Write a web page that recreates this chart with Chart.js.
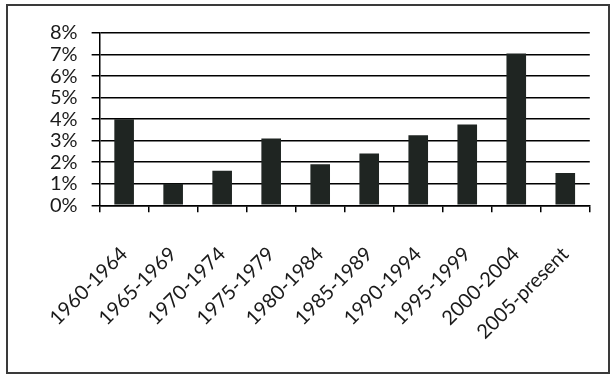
<!DOCTYPE html>
<html>
<head>
<meta charset="utf-8">
<script src="https://cdn.jsdelivr.net/npm/chart.js@4"></script>
<style>
  html, body { margin: 0; padding: 0; background: #fff; }
  #wrap { position: relative; width: 613px; height: 375px; }
  #frame { position: absolute; left: 6px; top: 4px; width: 600px; height: 366px; border: 2px solid #3a3a3a; box-sizing: content-box; pointer-events: none; }
</style>
</head>
<body>
<div id="wrap">
  <canvas id="chart" width="613" height="375"></canvas>
  <div id="frame"></div>
</div>
<script>
const periods = ['1960-1964', '1965-1969', '1970-1974', '1975-1979', '1980-1984',
                 '1985-1989', '1990-1994', '1995-1999', '2000-2004', '2005-present'];
const shares = [4.0, 1.0, 1.6, 3.1, 1.9, 2.4, 3.25, 3.75, 7.05, 1.5];

Chart.defaults.font.family = 'Lato, "Open Sans", sans-serif';
Chart.defaults.font.size = 20;
Chart.defaults.color = '#1a1a1a';

function draw() {
  new Chart(document.getElementById('chart'), {
    type: 'bar',
    data: {
      labels: periods,
      datasets: [{
        data: shares,
        backgroundColor: '#1f2522',
        categoryPercentage: 0.8,
        barPercentage: 0.5
      }]
    },
    options: {
      responsive: false,
      animation: false,
      layout: { padding: { left: 36, right: 15, top: 33, bottom: 1 } },
      plugins: { legend: { display: false }, tooltip: { enabled: false } },
      scales: {
        x: {
          grid: { drawOnChartArea: false, color: '#000', tickLength: 7, lineWidth: 1.5 },
          border: { color: '#000', width: 1.5 },
          ticks: { maxRotation: 45, minRotation: 45, autoSkip: false, padding: 30 }
        },
        y: {
          min: 0, max: 8,
          grid: { color: '#000', lineWidth: 1.5, tickLength: 8 },
          border: { color: '#000', width: 1.5 },
          ticks: { stepSize: 1, autoSkip: false, padding: 14, callback: v => v + '%' }
        }
      }
    }
  });
}

// make sure Lato is ready before the canvas text is measured
document.fonts.load('20px Lato').then(draw, draw);
</script>
</body>
</html>
